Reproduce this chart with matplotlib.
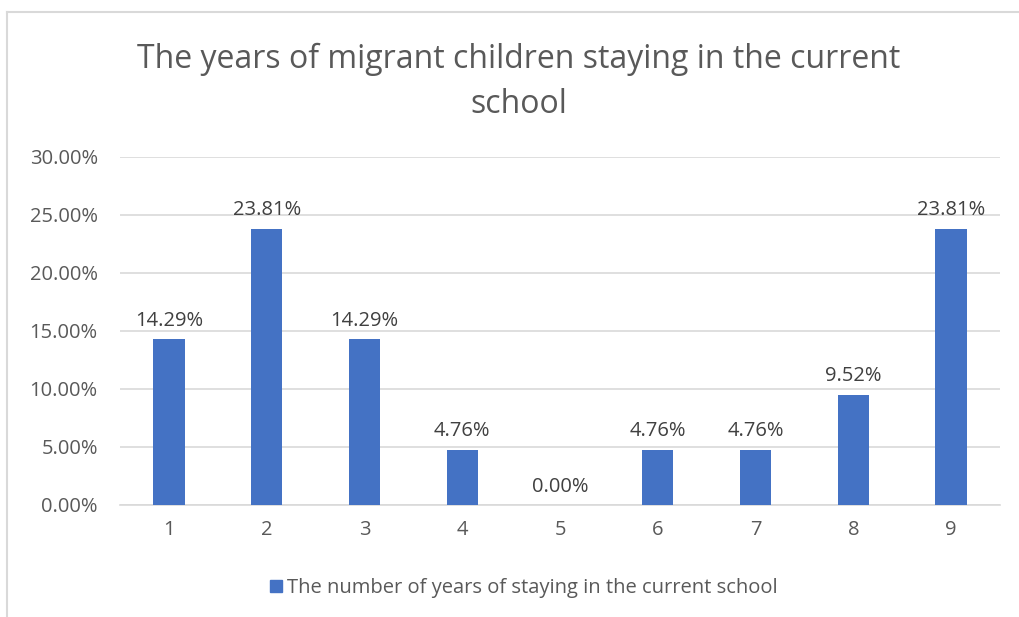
import matplotlib
matplotlib.use("Agg")
import matplotlib.pyplot as plt
from matplotlib.lines import Line2D

categories = ["1", "2", "3", "4", "5", "6", "7", "8", "9"]
values = [14.29, 23.81, 14.29, 4.76, 0.00, 4.76, 4.76, 9.52, 23.81]
yticks = [0, 5, 10, 15, 20, 25, 30]
series_name = "The number of years of staying in the current school"
title = "The years of migrant children staying in the current\nschool"

plt.rcParams['font.family'] = ['Open Sans', 'DejaVu Sans']
txt = "#595959"
bar_color = "#4472C4"
grid_color = "#D9D9D9"

fig = plt.figure(figsize=(10.19, 6.17), dpi=100)
W, H = 1019, 617
ax = fig.add_axes([120 / W, 1 - 505 / H, 880 / W, (505 - 157) / H])

x = list(range(len(categories)))
bars = ax.bar(x, values, width=0.32, color=bar_color, zorder=3, label=series_name)
ax.set_xlim(-0.5, len(categories) - 0.5)
ax.set_ylim(0, 30)
ax.set_yticks(yticks)
ax.set_yticklabels([f"{v:.2f}%" for v in yticks], color=txt, fontsize=14.5)
ax.set_xticks(x)
ax.set_xticklabels(categories, color=txt, fontsize=14.5)
ax.tick_params(length=0, pad=11)
ax.tick_params(axis='y', pad=16)
ax.grid(axis='y', color=grid_color, linewidth=1.2, zorder=0)
for s in ["top", "right", "left"]:
    ax.spines[s].set_visible(False)
ax.spines["bottom"].set_color(grid_color)
ax.spines["bottom"].set_linewidth(1.2)

for xi, v in zip(x, values):
    ax.annotate(f"{v:.2f}%", (xi, v), xytext=(0, 6), textcoords="offset points",
                ha="center", va="bottom", color="#404040", fontsize=14.5)

fig.text(519 / W, 1 - 82 / H, title, ha="center", va="center", color=txt,
         fontsize=23, linespacing=1.45)

handle = Line2D([], [], marker="s", linestyle="none", markersize=9,
                color=bar_color)
fig.legend([handle], [series_name], loc="center", bbox_to_anchor=(522 / W, 1 - 588 / H),
           frameon=False, fontsize=14.5, labelcolor=txt, handletextpad=0.1,
           handlelength=0.9)

# chart border
fig.add_artist(Line2D([7 / W, 7 / W], [0, 1 - 12 / H], color=grid_color, linewidth=1.5))
fig.add_artist(Line2D([7 / W, 1], [1 - 12 / H, 1 - 12 / H], color=grid_color, linewidth=1.5))

fig.savefig("out.png", dpi=100)
